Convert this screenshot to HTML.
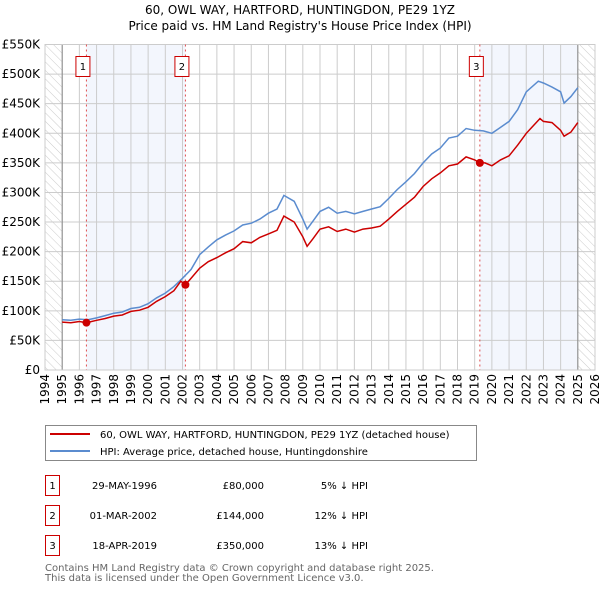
<!DOCTYPE html>
<html><head><meta charset="utf-8"><style>
body{margin:0;background:#fff;font-family:"DejaVu Sans","Liberation Sans",sans-serif;}
svg text{font-family:"DejaVu Sans","Liberation Sans",sans-serif;}
</style></head><body>
<svg id="c" width="600" height="590" xmlns="http://www.w3.org/2000/svg">
<defs><pattern id="hatch" width="6" height="6" patternUnits="userSpaceOnUse" patternTransform="rotate(-45)"><line x1="0" y1="0" x2="0" y2="6" stroke="#ccc" stroke-width="1"/></pattern></defs>
<text x="300" y="14" font-size="12" text-anchor="middle">60, OWL WAY, HARTFORD, HUNTINGDON, PE29 1YZ</text>
<text x="300" y="30" font-size="12" text-anchor="middle">Price paid vs. HM Land Registry's House Price Index (HPI)</text>
<g id="plot"></g>
<g>
<rect x="45.5" y="425.5" width="431" height="35" fill="#fff" stroke="#888"/>
<line x1="50" y1="434" x2="90" y2="434" stroke="#cc0000" stroke-width="2"/>
<text x="100" y="438" font-size="10">60, OWL WAY, HARTFORD, HUNTINGDON, PE29 1YZ (detached house)</text>
<line x1="50" y1="451" x2="90" y2="451" stroke="#5b8ccf" stroke-width="2"/>
<text x="100" y="455" font-size="10">HPI: Average price, detached house, Huntingdonshire</text>
</g>
<g id="table" font-size="10"></g>
<text x="45" y="571" font-size="10" fill="#666">Contains HM Land Registry data © Crown copyright and database right 2025.</text>
<text x="45" y="581" font-size="10" fill="#666">This data is licensed under the Open Government Licence v3.0.</text>
</svg>
<script>
const hpiYears=[1995,1995.5,1996,1996.5,1997,1997.5,1998,1998.5,1999,1999.5,2000,2000.5,2001,2001.5,2002,2002.5,2003,2003.5,2004,2004.5,2005,2005.5,2006,2006.5,2007,2007.5,2007.9,2008.5,2009,2009.25,2009.6,2010,2010.5,2011,2011.5,2012,2012.5,2013,2013.5,2014,2014.5,2015,2015.5,2016,2016.5,2017,2017.5,2018,2018.5,2019,2019.5,2020,2020.5,2021,2021.5,2022,2022.7,2023,2023.5,2024,2024.2,2024.6,2025];
const hpiValues=[85,84,86,85,88,92,96,98,104,106,112,122,130,141,155,170,195,208,220,228,235,245,248,255,265,272,295,285,255,238,252,268,275,265,268,264,268,272,276,290,305,318,332,350,365,375,392,395,408,405,404,400,410,420,440,470,488,485,478,470,451,462,477];
const redYears=[1995,1995.5,1996,1996.41,1997,1997.5,1998,1998.5,1999,1999.5,2000,2000.5,2001,2001.5,2001.9,2002.17,2002.5,2003,2003.5,2004,2004.5,2005,2005.5,2006,2006.5,2007,2007.5,2007.9,2008.5,2009,2009.25,2009.6,2010,2010.5,2011,2011.5,2012,2012.5,2013,2013.5,2014,2014.5,2015,2015.5,2016,2016.5,2017,2017.5,2018,2018.5,2019,2019.3,2019.6,2020,2020.5,2021,2021.5,2022,2022.8,2023,2023.5,2024,2024.2,2024.6,2025];
const redValues=[81,80,82,80,84,87,91,93,99,101,106,116,124,134,150,144,155,172,183,190,198,205,217,215,224,230,236,260,250,225,209,222,238,242,234,238,233,238,240,243,255,268,280,292,310,323,333,345,348,360,355,350,350,345,355,362,380,400,425,420,418,405,395,402,418];
const yTicks=[0,50,100,150,200,250,300,350,400,450,500,550];
const yTickLabels=["£0","£50K","£100K","£150K","£200K","£250K","£300K","£350K","£400K","£450K","£500K","£550K"];
const xTicks=[1994,1995,1996,1997,1998,1999,2000,2001,2002,2003,2004,2005,2006,2007,2008,2009,2010,2011,2012,2013,2014,2015,2016,2017,2018,2019,2020,2021,2022,2023,2024,2025,2026];
const saleYears=[1996.41,2002.17,2019.3];
const salePrices=[80,144,350];
const saleLabels=["1","2","3"];
const saleDates=["29-MAY-1996","01-MAR-2002","18-APR-2019"];
const salePriceText=["£80,000","£144,000","£350,000"];
const saleDiff=["5% ↓ HPI","12% ↓ HPI","13% ↓ HPI"];

const X0=45,X1=595,Y0=370,Y1=44.5;
const x=t=>X0+(t-1994)/(2026-1994)*(X1-X0);
const y=v=>Y0-v/550*(Y0-Y1);
const NS="http://www.w3.org/2000/svg";
const g=document.getElementById('plot');
function mk(tag,attrs,parent){const e=document.createElementNS(NS,tag);for(const k in attrs)e.setAttribute(k,attrs[k]);(parent||g).appendChild(e);return e;}

let e;
e=mk('rect',{x:X0,y:Y1,width:X1-X0,height:Y0-Y1,fill:'#fff'});


e=mk('rect',{x:x(saleYears[0]),y:Y1,width:x(saleYears[1])-x(saleYears[0]),height:Y0-Y1,fill:'#f3f6fd'});


e=mk('rect',{x:x(saleYears[2]),y:Y1,width:x(2025)-x(saleYears[2]),height:Y0-Y1,fill:'#f3f6fd'});


e=mk('rect',{x:X0,y:Y1,width:x(1995)-X0,height:Y0-Y1,fill:'url(#hatch)'});


e=mk('rect',{x:x(2025),y:Y1,width:X1-x(2025),height:Y0-Y1,fill:'url(#hatch)'});


xTicks.forEach((t,i)=>{
  e=mk('line',{x1:x(t),x2:x(t),y1:Y1,y2:Y0,stroke:'#ccc','stroke-width':1});
  
  
  e=mk('text',{x:0,y:0,'font-size':12,'text-anchor':'end',transform:`translate(${x(t)+4},374) rotate(-90)`});
  e.textContent=t;
  
  
});
yTicks.forEach((v,i)=>{
  e=mk('line',{x1:X0,x2:X1,y1:y(v),y2:y(v),stroke:'#ccc','stroke-width':1});
  
  
  e=mk('text',{x:40,y:y(v)+4,'font-size':12,'text-anchor':'end'});
  e.textContent=yTickLabels[i];
  
  
});
e=mk('line',{x1:x(1995),x2:x(1995),y1:Y1,y2:Y0,stroke:'#888'});


e=mk('line',{x1:x(2025),x2:x(2025),y1:Y1,y2:Y0,stroke:'#888'});


e=mk('rect',{x:X0,y:Y1,width:X1-X0,height:Y0-Y1,fill:'none',stroke:'#ccc'});


saleYears.forEach((t,i)=>{
  e=mk('line',{x1:x(t),x2:x(t),y1:Y1,y2:Y0,stroke:'#e05050','stroke-dasharray':'2,3','stroke-width':1});
  
  
});
e=mk('path',{d:hpiYears.map((t,i)=>(i?'L':'M')+x(t).toFixed(1)+','+y(hpiValues[i]).toFixed(1)).join(''),fill:'none',stroke:'#5b8ccf','stroke-width':1.5});


e=mk('path',{d:redYears.map((t,i)=>(i?'L':'M')+x(t).toFixed(1)+','+y(redValues[i]).toFixed(1)).join(''),fill:'none',stroke:'#cc0000','stroke-width':1.5});


saleYears.forEach((t,i)=>{
  e=mk('circle',{cx:x(t),cy:y(salePrices[i]),r:4,fill:'#cc0000'});
  
  
  e=mk('rect',{x:x(t)-10.5,y:56.5,width:14,height:20,fill:'#fff',stroke:'#cc0000'});
  
  
  e=mk('text',{x:x(t)-3.5,y:70,'font-size':10,'text-anchor':'middle'});
  e.textContent=saleLabels[i];
  
  
});
const tb=document.getElementById('table');
saleLabels.forEach((l,i)=>{
  const cy=483+i*30;
  e=mk('rect',{x:45.5,y:cy-7.5,width:14,height:20,fill:'#fff',stroke:'#cc0000'},tb);
  
  
  e=mk('text',{x:52.5,y:cy+6,'text-anchor':'middle'},tb);e.textContent=l;
  
  
  e=mk('text',{x:157,y:cy+6,'text-anchor':'end'},tb);e.textContent=saleDates[i];
  
  
  e=mk('text',{x:264,y:cy+6,'text-anchor':'end'},tb);e.textContent=salePriceText[i];
  
  
  e=mk('text',{x:368,y:cy+6,'text-anchor':'end'},tb);e.textContent=saleDiff[i];
  
  
});
</script>
</body></html>
